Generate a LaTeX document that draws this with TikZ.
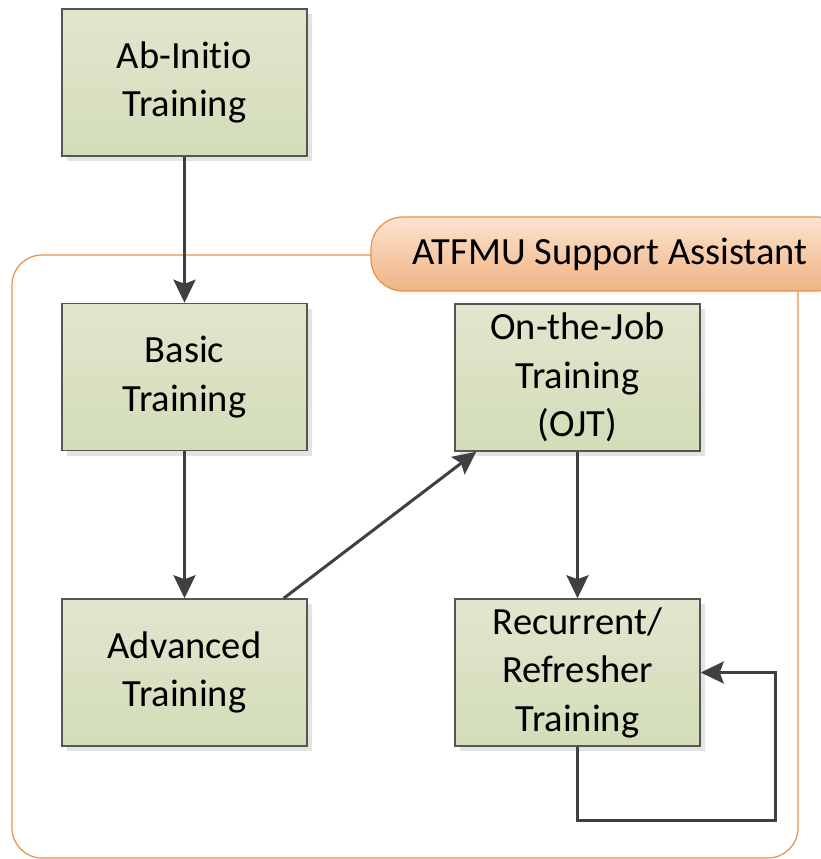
\documentclass[tikz,border=0pt]{standalone}
\usepackage{fontspec}
\setmainfont[Ligatures=NoCommon]{Carlito}
\usetikzlibrary{arrows.meta,shadows}

\definecolor{boxtop}{HTML}{E1E6CE}
\definecolor{boxbot}{HTML}{D3DDB8}
\definecolor{boxline}{HTML}{555555}
\definecolor{arrowgray}{HTML}{404040}
\definecolor{frameorange}{HTML}{E5914A}
\definecolor{tagtop}{HTML}{FCE3CF}
\definecolor{tagbot}{HTML}{F0B383}

\tikzset{
    stagebox/.style={draw=boxline, line width=1.5pt, top color=boxtop, bottom color=boxbot,
        minimum width=245pt, minimum height=147pt, align=center,
        font=\fontsize{38.5}{48.5}\selectfont,
        drop shadow={shadow xshift=5pt, shadow yshift=-5pt, fill=black!11, opacity=1}},
    flow/.style={draw=arrowgray, line width=3pt, -{Stealth[length=23pt,width=22pt,inset=4pt]}},
    framebox/.style={draw=frameorange, line width=1.2pt, rounded corners=30pt,
        minimum width=786pt, minimum height=603pt},
    tagbox/.style={draw=frameorange, line width=1.2pt, rounded corners=32pt,
        top color=tagtop, bottom color=tagbot, minimum width=478pt, minimum height=74pt,
        font=\fontsize{38.5}{48.5}\selectfont}
}

\begin{document}
\begin{tikzpicture}[x=1pt, y=-1pt]
    \useasboundingbox (0, 0) rectangle (821, 859);

    % Draw the frame and its label
    \node[framebox] (frame) at (405, 556.5) {};
    \node[tagbox] (tag) at (610, 254) {ATFMU Support Assistant};

    % Draw the training stages
    \node[stagebox] (abinitio) at (184.5, 82.5) {Ab-Initio\\Training};
    \node[stagebox] (basic) at (184.5, 377) {Basic\\Training};
    \node[stagebox] (advanced) at (184.5, 672.5) {Advanced\\Training};
    \node[stagebox] (ojt) at (577.5, 377.5) {On-the-Job\\Training\\(OJT)};
    \node[stagebox] (recurrent) at (577.5, 672.5) {Recurrent/\\Refresher\\Training};

    % Draw the arrows between the stages
    \draw[flow] (abinitio.south) -- (basic.north);
    \draw[flow] (basic.south) -- (advanced.north);
    \draw[flow] ([xshift=-24pt]advanced.north east) -- ([xshift=22pt]ojt.south west);
    \draw[flow] (ojt.south) -- (recurrent.north);

    % Loop back into the refresher stage
    \coordinate (loop) at (775, 820);
    \draw[flow] (recurrent.south) |- (loop) |- (recurrent.east);
\end{tikzpicture}
\end{document}
